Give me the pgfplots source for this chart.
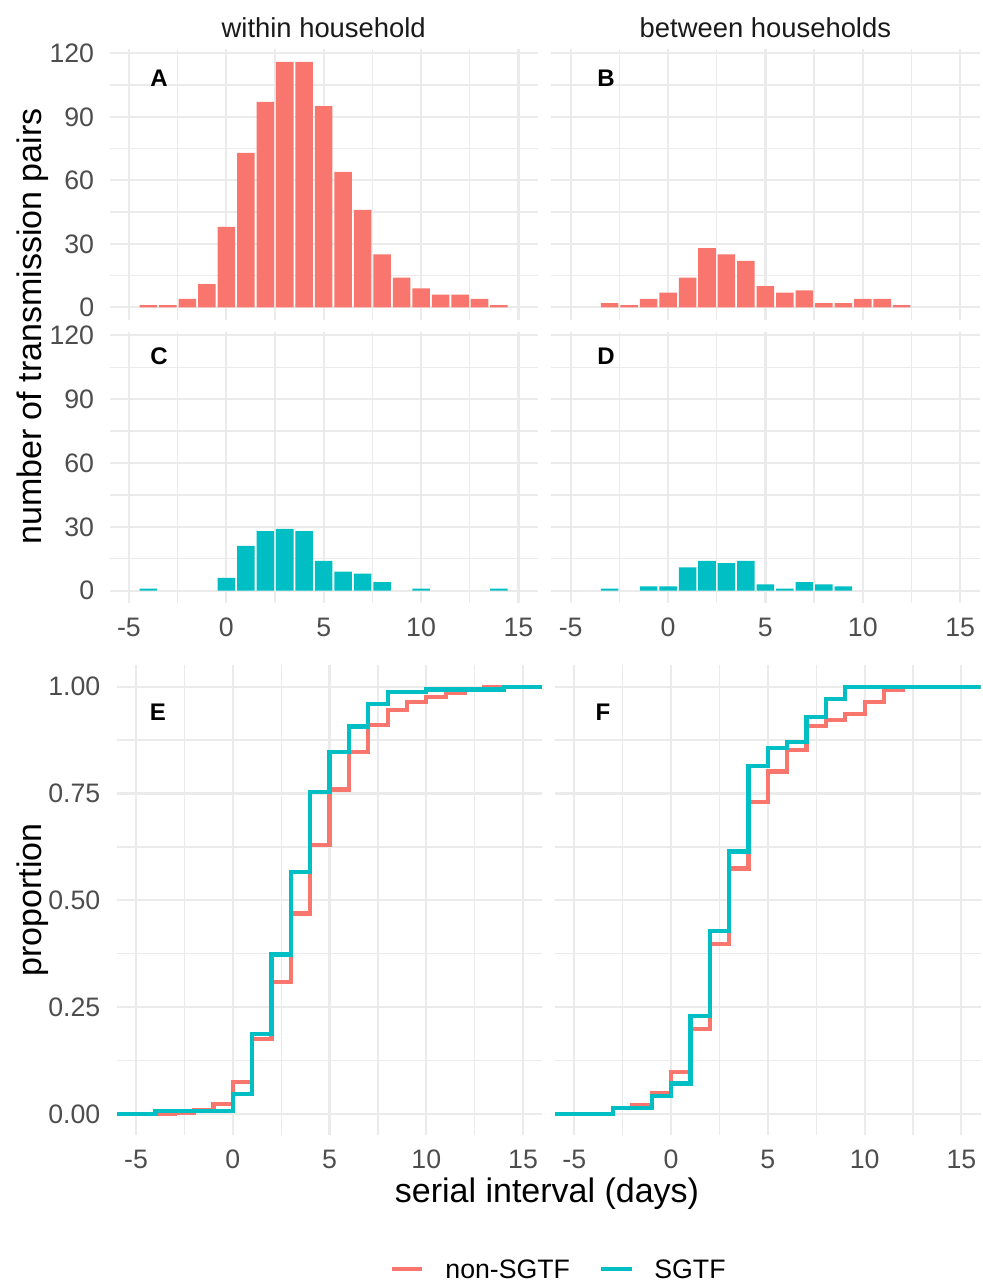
\documentclass[border=0pt]{standalone}
\usepackage{fontspec}
\setmainfont{Liberation Sans}
\usepackage{pgfplots}
\pgfplotsset{compat=1.18}
\definecolor{nonsgtf}{HTML}{F8766D}
\definecolor{sgtf}{HTML}{00BFC4}
\definecolor{gridc}{HTML}{EBEBEB}
\definecolor{tickc}{HTML}{4D4D4D}
\definecolor{stripc}{HTML}{1A1A1A}
\newcommand{\basefont}{\fontsize{13.35}{16}\selectfont}
\newcommand{\stripfont}{\fontsize{13.7}{16}\selectfont}
\newcommand{\titlefont}{\fontsize{17}{20}\selectfont}
\newcommand{\letterfont}{\fontsize{12}{14}\selectfont\bfseries}
\pgfplotsset{
  panel/.style={
    scale only axis, anchor=north west,
    xmin=-6, xmax=16,
    xtick={-5,0,5,10,15}, minor xtick={-2.5,2.5,7.5,12.5},
    grid=both,
    major grid style={draw=gridc, line width=1.1pt},
    minor grid style={draw=gridc, line width=0.6pt},
    axis line style={draw=none},
    tick style={draw=none},
    major tick length=0pt, minor tick length=0pt,
    tick label style={font=\basefont, text=tickc, inner sep=0pt},
    xticklabel style={anchor=north, yshift=-7.25pt},
    yticklabel style={anchor=east, xshift=-7.5pt},
  },
  hist/.style={panel, ybar, bar width=0.9, width=214.2pt,
    ymin=-5.8, ymax=121.8, ytick={0,30,60,90,120}, minor ytick={15,45,75,105}},
  cdf/.style={panel, width=212.85pt, height=235.05pt,
    ymin=-0.05, ymax=1.05, ytick={0,0.25,0.5,0.75,1}, minor ytick={0.125,0.375,0.625,0.875},
    yticklabel style={xshift=-0.5pt}},
}
\begin{document}
\begin{tikzpicture}
\useasboundingbox (0pt,0pt) rectangle (491pt,-641.5pt);

% A: within household, non-SGTF
\begin{axis}[hist, at={(54.75pt,-24.75pt)}, height=135.05pt,
  xticklabels={,,,,}, yticklabels={0,30,60,90,120}]
\addplot[fill=nonsgtf, draw=none] coordinates {
(-4,1) (-3,1) (-2,4) (-1,11) (0,38) (1,73) (2,97) (3,116) (4,116) (5,95)
(6,64) (7,46) (8,25) (9,14) (10,9) (11,6) (12,6) (13,4) (14,1)};
\end{axis}

% B: between households, non-SGTF
\begin{axis}[hist, at={(275.6pt,-24.75pt)}, height=135.05pt,
  xticklabels={,,,,}, yticklabels={,,,,}]
\addplot[fill=nonsgtf, draw=none] coordinates {
(-3,2) (-2,1) (-1,4) (0,7) (1,14) (2,28) (3,25) (4,22) (5,10) (6,7)
(7,8) (8,2) (9,2) (10,4) (11,4) (12,1)};
\end{axis}

% C: within household, SGTF
\begin{axis}[hist, at={(54.75pt,-165.75pt)}, height=135.75pt,
  xticklabels={-5,0,5,10,15}, yticklabels={0,30,60,90,120}]
\addplot[fill=sgtf, draw=none] coordinates {
(-4,1) (0,6) (1,21) (2,28) (3,29) (4,28) (5,14) (6,9) (7,8) (8,4) (10,1) (14,1)};
\end{axis}

% D: between households, SGTF
\begin{axis}[hist, at={(275.6pt,-165.75pt)}, height=135.75pt,
  xticklabels={-5,0,5,10,15}, yticklabels={,,,,}]
\addplot[fill=sgtf, draw=none] coordinates {
(-3,1) (-1,2) (0,2) (1,11) (2,14) (3,13) (4,14) (5,3) (6,1) (7,4) (8,3) (9,2)};
\end{axis}

% E: ECDF within household
\begin{axis}[cdf, at={(58.35pt,-332.65pt)}, xticklabels={-5,0,5,10,15},
  yticklabels={0.00,0.25,0.50,0.75,1.00}]
\addplot[const plot, color=nonsgtf, line width=2.1pt] coordinates {
(-6,0) (-4,0.0014) (-3,0.0028) (-2,0.0083) (-1,0.0234) (0,0.0757) (1,0.1761)
(2,0.3095) (3,0.4691) (4,0.6286) (5,0.7593) (6,0.8473) (7,0.9106) (8,0.9450)
(9,0.9642) (10,0.9766) (11,0.9849) (12,0.9931) (13,0.9986) (14,1) (16,1)};
\addplot[const plot, color=sgtf, line width=2.1pt] coordinates {
(-6,0) (-4,0.0067) (0,0.0467) (1,0.1867) (2,0.3733) (3,0.5667) (4,0.7533)
(5,0.8467) (6,0.9067) (7,0.96) (8,0.9867) (10,0.9933) (14,1) (16,1)};
\end{axis}

% F: ECDF between households
\begin{axis}[cdf, at={(277.5pt,-332.65pt)}, xticklabels={-5,0,5,10,15}, yticklabels={,,,,}]
\addplot[const plot, color=nonsgtf, line width=2.1pt] coordinates {
(-6,0) (-3,0.0142) (-2,0.0213) (-1,0.0496) (0,0.0993) (1,0.1986) (2,0.3972)
(3,0.5745) (4,0.7305) (5,0.8014) (6,0.8511) (7,0.9078) (8,0.9220) (9,0.9362)
(10,0.9645) (11,0.9929) (12,1) (16,1)};
\addplot[const plot, color=sgtf, line width=2.1pt] coordinates {
(-6,0) (-3,0.0143) (-1,0.0429) (0,0.0714) (1,0.2286) (2,0.4286) (3,0.6143)
(4,0.8143) (5,0.8571) (6,0.8714) (7,0.9286) (8,0.9714) (9,1) (16,1)};
\end{axis}

% strip titles
\node[font=\stripfont, text=stripc, anchor=base] at (161.85pt,-18.75pt) {within household};
\node[font=\stripfont, text=stripc, anchor=base] at (382.7pt,-18.75pt) {between households};

% panel letters
\node[font=\letterfont] at (79.5pt,-39pt) {A};
\node[font=\letterfont] at (303pt,-39pt) {B};
\node[font=\letterfont] at (79.5pt,-178pt) {C};
\node[font=\letterfont] at (303pt,-178pt) {D};
\node[font=\letterfont] at (79pt,-356.35pt) {E};
\node[font=\letterfont] at (301.5pt,-356.35pt) {F};

% axis titles
\node[font=\titlefont, rotate=90, anchor=base] at (20.5pt,-163.25pt) {number of transmission pairs};
\node[font=\titlefont, rotate=90, anchor=base] at (20.5pt,-450pt) {proportion};
\node[font=\titlefont, anchor=base] at (273.5pt,-601pt) {serial interval (days)};

% legend
\draw[nonsgtf, line width=2pt] (196pt,-634.5pt) -- (211pt,-634.5pt);
\node[font=\basefont, anchor=base west, inner sep=0pt] at (222.5pt,-639.15pt) {non-SGTF};
\draw[sgtf, line width=2pt] (300.5pt,-634.5pt) -- (316pt,-634.5pt);
\node[font=\basefont, anchor=base west, inner sep=0pt] at (327pt,-639.15pt) {SGTF};
\end{tikzpicture}
\end{document}
